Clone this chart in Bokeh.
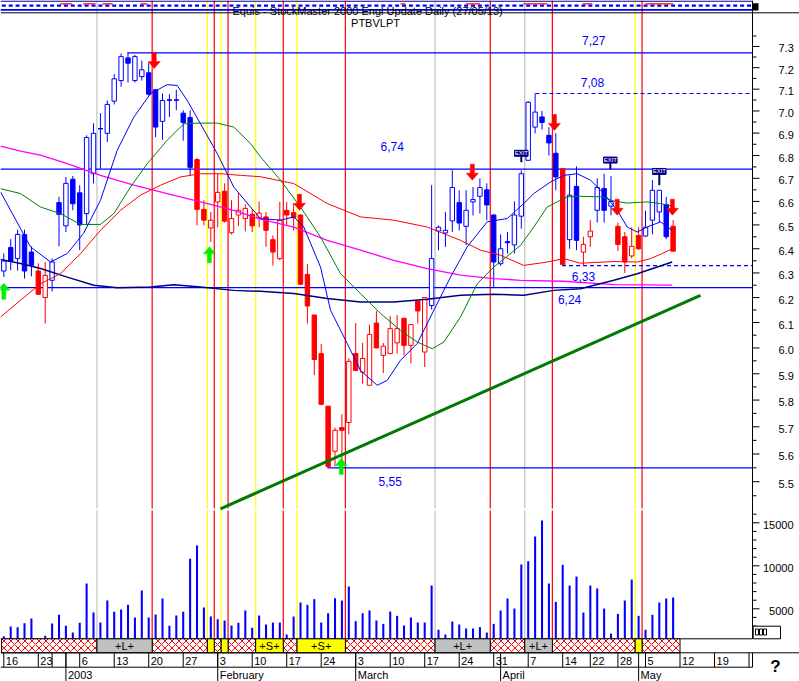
import math
from bokeh.plotting import figure
from bokeh.models import Range1d, LogScale, LinearScale
from bokeh.core.properties import value
from bokeh.embed import file_html
from bokeh.resources import INLINE

# ---------------- data ----------------
bar_open = [6.308, 6.405, 6.359, 6.459, 6.386, 6.308, 6.20, 6.27, 6.595, 6.496,
            6.696, 6.637, 6.548, 6.72, 6.92, 6.899, 7.045, 7.14, 7.246, 7.14,
            7.158, 7.176, 7.097, 6.953, 7.05, 7.05, 6.99, 6.97, 6.782, 6.566,
            6.487, 6.598, 6.644, 6.467, 6.542, 6.527, 6.545, 6.53, 6.534, 6.438,
            6.359, 6.562, 6.552, 6.542, 6.294, 6.13, 5.978, 5.777, 5.61, 5.697,
            5.716, 5.978, 5.906, 5.856, 6.098, 5.971, 5.978, 6.02, 6.117, 6.01,
            6.186, 5.984, 6.168, 6.474, 6.466, 6.517, 6.595, 6.494, 6.598, 6.622,
            6.65, 6.542, 6.338, 6.43, 6.416, 6.537, 6.779, 6.927, 6.973, 6.89,
            6.81, 6.742, 6.438, 6.665, 6.386, 6.45, 6.562, 6.656, 6.58, 6.494,
            6.45, 6.37, 6.455, 6.453, 6.52, 6.555, 6.587, 6.494]
bar_high = [6.380, 6.44, 6.48, 6.48, 6.41, 6.34, 6.345, 6.36, 6.62, 6.706,
            6.71, 6.67, 6.89, 6.944, 6.99, 7.048, 7.17, 7.267, 7.27, 7.26,
            7.234, 7.224, 7.10, 7.08, 7.077, 7.097, 7.003, 7.003, 6.79, 6.605,
            6.555, 6.72, 6.678, 6.605, 6.638, 6.587, 6.566, 6.60, 6.555, 6.456,
            6.598, 6.598, 6.59, 6.545, 6.337, 6.13, 6.016, 5.777, 5.697, 5.747,
            5.96, 6.098, 6.02, 6.092, 6.146, 6.019, 6.126, 6.13, 6.117, 6.092,
            6.186, 6.2, 6.67, 6.498, 6.555, 6.735, 6.648, 6.648, 6.662, 6.70,
            6.678, 6.545, 6.46, 6.47, 6.60, 6.735, 7.045, 7.08, 7.0, 6.927,
            6.9, 6.742, 6.713, 6.752, 6.45, 6.52, 6.70, 6.72, 6.71, 6.51,
            6.47, 6.49, 6.49, 6.56, 6.692, 6.648, 6.62, 6.52]
bar_low = [6.283, 6.311, 6.31, 6.277, 6.286, 6.213, 6.096, 6.225, 6.41, 6.47,
           6.562, 6.394, 6.50, 6.678, 6.742, 6.86, 7.03, 7.111, 7.131, 7.131,
           7.14, 7.07, 6.882, 6.87, 6.973, 7.003, 6.866, 6.713, 6.498, 6.498,
           6.428, 6.49, 6.51, 6.46, 6.494, 6.473, 6.47, 6.49, 6.408, 6.33,
           6.352, 6.498, 6.477, 6.25, 6.096, 5.895, 5.78, 5.55, 5.555, 5.565,
           5.672, 5.91, 5.862, 5.856, 6.0, 5.903, 5.978, 5.978, 5.971, 5.94,
           6.096, 5.926, 6.152, 6.394, 6.408, 6.47, 6.477, 6.415, 6.54, 6.548,
           6.52, 6.243, 6.33, 6.38, 6.38, 6.484, 6.779, 6.899, 6.916, 6.80,
           6.648, 6.33, 6.40, 6.394, 6.33, 6.408, 6.51, 6.51, 6.54, 6.39,
           6.30, 6.36, 6.395, 6.45, 6.46, 6.51, 6.44, 6.388]
bar_close = [6.349, 6.348, 6.46, 6.308, 6.331, 6.213, 6.29, 6.345, 6.545, 6.678,
             6.59, 6.50, 6.88, 6.899, 6.92, 7.03, 7.148, 7.252, 7.221, 7.252,
             7.19, 7.077, 6.927, 7.048, 7.05, 7.05, 6.948, 6.748, 6.566, 6.52,
             6.52, 6.639, 6.516, 6.527, 6.562, 6.57, 6.496, 6.55, 6.477, 6.386,
             6.52, 6.542, 6.53, 6.254, 6.166, 5.955, 5.784, 5.555, 5.687, 5.687,
             5.948, 5.913, 5.959, 6.053, 6.0, 6.007, 6.076, 6.076, 6.01, 6.092,
             6.146, 6.2, 6.359, 6.49, 6.477, 6.66, 6.508, 6.562, 6.608, 6.66,
             6.585, 6.345, 6.40, 6.425, 6.542, 6.72, 7.04, 6.995, 6.948, 6.856,
             6.706, 6.335, 6.627, 6.435, 6.418, 6.474, 6.66, 6.562, 6.60, 6.418,
             6.345, 6.41, 6.40, 6.49, 6.648, 6.648, 6.45, 6.39]
bar_state = (["B"] * 5 + ["R"] * 2 + ["B"] * 21 + ["R"] * 34 + ["B"] * 19 + ["R"]
             + ["B"] * 2 + ["R"] * 2 + ["B"] * 3 + ["R"] * 4 + ["B"] * 4 + ["R"])
volume = [1812, 2940, 2860, 3330, 3870, 1400, 1860, 3290, 4300, 3020,
          2240, 3370, 7940, 4570, 3400, 5960, 4650, 4920, 5460, 3990,
          7130, 3990, 4330, 6200, 3020, 4220, 4650, 10810, 12360, 5150,
          4100, 3790, 3640, 3060, 3370, 4800, 2790, 4220, 3170, 3400,
          3400, 2010, 4100, 5730, 5460, 6120, 3400, 4490, 6230, 5960,
          7590, 3560, 4490, 4800, 3640, 3250, 4680, 4180, 3060, 3990,
          3400, 3400, 7710, 2560, 2010, 3520, 3170, 2710, 2710, 2860,
          2240, 3250, 4800, 6200, 5030, 10150, 10530, 13410, 15270, 7940,
          5810, 10110, 7710, 8750, 4570, 7710, 7360, 5030, 2120, 4410,
          5960, 8400, 4180, 2560, 4300, 5730, 6200, 6310]

ma_fast_x = [-0.48, 3.87, 6.77, 9.19, 11.55, 14.01, 16.43, 18.84, 21.26, 23.68, 25.13, 26.58,
             28.51, 30.93, 33.33, 35.75, 37.2, 40.1, 42.03, 43.48, 45.9, 47.35, 49.77, 51.7,
             54.12, 55.57, 57.49, 59.91, 62.32, 64.74, 67.16, 70.06, 72.96, 75.36, 76.81,
             79.23, 81.16, 83.1, 85.03, 86.96, 88.9, 90.35, 91.8, 93.25, 95.17, 96.87]
ma_fast_y = [6.641, 6.408, 6.345, 6.38, 6.464, 6.605, 6.823, 6.972, 7.079, 7.121, 7.117, 7.048,
             6.942, 6.809, 6.662, 6.576, 6.527, 6.52, 6.534, 6.491, 6.324, 6.149, 6.017, 5.913,
             5.856, 5.875, 5.952, 6.017, 6.149, 6.283, 6.408, 6.513, 6.527, 6.591, 6.634,
             6.684, 6.713, 6.72, 6.692, 6.634, 6.562, 6.491, 6.47, 6.491, 6.513, 6.477]
ma_mid_x = [-0.48, 2.42, 5.32, 8.22, 11.12, 14.01, 15.94, 18.36, 20.78, 23.68, 26.09, 28.51,
            30.93, 33.33, 35.75, 37.2, 40.1, 43.0, 45.9, 48.8, 51.7, 54.6, 57.49, 59.91,
            62.09, 63.77, 66.19, 68.61, 71.01, 74.88, 76.81, 78.75, 80.2, 81.65, 83.57,
            86.48, 88.41, 90.35, 93.25, 95.17, 96.87]
ma_mid_y = [6.655, 6.634, 6.576, 6.548, 6.502, 6.502, 6.548, 6.662, 6.764, 6.868, 6.942, 6.945,
            6.945, 6.927, 6.853, 6.794, 6.692, 6.576, 6.449, 6.297, 6.216, 6.136, 6.069, 6.023,
            5.997, 6.023, 6.122, 6.256, 6.324, 6.414, 6.491, 6.576, 6.598, 6.62, 6.622,
            6.62, 6.602, 6.593, 6.598, 6.591, 6.58]
ma_slow_x = [-0.48, 2.42, 5.32, 8.22, 11.12, 14.01, 16.91, 19.81, 22.71, 25.61, 28.51, 31.4,
             34.3, 37.2, 42.03, 46.87, 51.7, 56.52, 61.36, 66.19, 69.09, 71.98, 75.36, 78.75,
             81.16, 83.57, 88.41, 91.8, 93.72, 95.42, 96.87]
ma_slow_y = [6.122, 6.189, 6.256, 6.297, 6.38, 6.477, 6.562, 6.627, 6.67, 6.706, 6.72, 6.72,
             6.713, 6.707, 6.677, 6.591, 6.534, 6.52, 6.491, 6.435, 6.394, 6.373, 6.331, 6.345,
             6.359, 6.34, 6.347, 6.345, 6.359, 6.38, 6.40]
ma_long_x = [-0.48, 2.42, 5.32, 9.19, 14.01, 18.84, 23.68, 28.51, 33.33, 37.2, 42.03, 46.87,
             51.7, 56.52, 61.36, 66.19, 71.01, 74.88, 81.16, 88.41, 96.87]
ma_long_y = [6.842, 6.82, 6.802, 6.764, 6.713, 6.67, 6.634, 6.598, 6.562, 6.524, 6.491, 6.435,
             6.394, 6.352, 6.318, 6.291, 6.277, 6.27, 6.266, 6.252, 6.25]
ma_base_x = [-0.48, 2.42, 5.32, 9.19, 13.04, 16.43, 21.26, 24.64, 28.51, 33.33, 37.2, 42.03,
             46.87, 51.7, 56.52, 61.36, 66.19, 71.01, 75.36, 79.71, 83.57, 88.41, 91.8, 96.87]
ma_base_y = [6.355, 6.339, 6.318, 6.283, 6.25, 6.24, 6.243, 6.252, 6.243, 6.229, 6.225, 6.216,
             6.196, 6.182, 6.182, 6.193, 6.209, 6.213, 6.209, 6.229, 6.236, 6.27, 6.297, 6.345]

level_values = [7.27, 7.08, 6.74, 6.33, 6.24, 5.55]
level_start_bar = [17.9, 77.05, -0.48, 80.9, -0.48, 46.9]
level_dashed = [False, True, False, True, False, False]
level_text = ["7,27", "7,08", "6,74", "6,33", "6,24", "5,55"]
level_text_bar = [85.5, 85.3, 56.3, 84.0, 82.0, 56.0]

trend_x = [31.4, 100.97]
trend_y = [5.404, 6.209]

sell_arrow_bar = [21.8, 42.85, 67.9, 79.8, 88.9, 96.9]
sell_arrow_price = [7.196, 6.562, 6.692, 6.912, 6.541, 6.541]
buy_arrow_bar = [0.0, 29.8, 48.9]
buy_arrow_price = [6.258, 6.408, 5.584]

exit_bar = [75.0, 87.9, 95.0]
exit_box_price = [6.81, 6.78, 6.73]
exit_stem_price = [6.77, 6.74, 6.67]

long_lines = [13.5, 62.5, 75.5]
exit_lines = [21.5, 30.5, 32.5, 40.5, 49.5, 70.5, 79.5, 92.5]
short_lines = [29.5, 31.5, 36.5, 42.5, 91.5]

band_start = [-0.33, 13.5, 21.5, 29.5, 30.5, 31.5, 32.5, 36.5, 40.5, 42.5, 49.5, 62.5, 70.5, 75.5, 79.5, 91.5, 92.5]
band_end = [13.5, 21.5, 29.5, 30.5, 31.5, 32.5, 36.5, 40.5, 42.5, 49.5, 62.5, 70.5, 75.5, 79.5, 91.5, 92.5, 98.0]
band_kind = ["N", "L", "N", "S", "N", "S", "N", "S", "N", "S", "N", "L", "N", "L", "N", "S", "N"]
band_label = ["", "+L+", "", "", "", "", "", "+S+", "", "+S+", "", "+L+", "", "+L+", "", "", ""]

week_tick_bar = [0, 5, 7, 9, 11, 16, 21, 26, 31, 36, 41, 46, 51, 56, 61, 66, 71, 76, 81, 85, 89, 93, 98, 103, 108]
week_tick_label = ["16", "23", "", "", "6", "13", "20", "27", "3", "10", "17", "24", "3", "10",
                   "17", "24", "31", "7", "14", "22", "28", "5", "12", "19", "2"]
month_bar = [9, 31, 51, 72, 92]
month_label = ["2003", "February", "March", "April", "May"]

price_ticks = [5.5, 5.6, 5.7, 5.8, 5.9, 6.0, 6.1, 6.2, 6.3, 6.4, 6.5, 6.6, 6.7, 6.8, 6.9, 7.0, 7.1, 7.2, 7.3]
price_tick_labels = ["5.5", "5.6", "5.7", "5.8", "5.9", "6.0", "6.1", "6.2", "6.3", "6.4", "6.5",
                     "6.6", "6.7", "6.8", "6.9", "7.0", "7.1", "7.2", "7.3"]
price_minor_ticks = [5.45, 5.55, 5.65, 5.75, 5.85, 5.95, 6.05, 6.15, 6.25, 6.35, 6.45, 6.55,
                     6.65, 6.75, 6.85, 6.95, 7.05, 7.15, 7.25, 7.35]
volume_ticks = [5000, 10000, 15000]
volume_tick_labels = ["5000", "10000", "15000"]
volume_minor_ticks = [2000, 3000, 4000, 6000, 7000, 8000, 9000, 11000, 12000, 13000, 14000, 16000]

header_red_start = [8.2, 11.5, 14.3, 19.8, 57.5, 67.0, 75.3, 83.9, 93.0]
header_red_end = [9.9, 13.3, 15.8, 20.8, 58.2, 69.0, 78.8, 85.3, 97.0]

# ---------------- layout (one canvas, reference pixel rows) ----------------
W, H = 799, 681
PXB = 6.9                       # pixels per trading day
XMIN = -0.48
XEND = XMIN + W / PXB
XAX = XMIN + 752 / PXB          # right axis position


def bx(px):
    return XMIN + px / PXB


# price scale: log, 1537.3 px per ln unit, 7.27 at row 52.3
K = 1537.3
PTOP = math.exp(math.log(7.27) + 52.3 / K)
PBOT = math.exp(math.log(7.27) - (H - 52.3) / K)
# volume scale: 5000 per 43 px, 15000 at row 522.3
VPX = 5000 / 43
VTOP = 15000 + 522.3 * VPX
VBOT = 15000 - (H - 522.3) * VPX
VFLOOR = 15000 - (638.3 - 522.3) * VPX

FONT = value("Liberation Sans")
RED, YEL, GRY, BLU, NAVY = "#FF0000", "#FFFF00", "#C0C0C0", "#0000FF", "#000080"

p = figure(width=W, height=H, x_range=Range1d(XMIN, XEND), y_range=Range1d(H, 0),
           x_axis_location=None, y_axis_location=None, min_border=0,
           toolbar_location=None, output_backend="svg")
p.extra_y_ranges = {"price": Range1d(PBOT, PTOP), "vol": Range1d(VBOT, VTOP)}
p.extra_y_scales = {"price": LogScale(), "vol": LinearScale()}
p.outline_line_color = None
p.grid.visible = False
p.background_fill_color = "white"
p.border_fill_color = "white"

PR = dict(y_range_name="price")
VR = dict(y_range_name="vol")

# ---- signal verticals (price + volume panes, small gap between panes) ----
for bars, c in ((long_lines, GRY), (short_lines, YEL), (exit_lines, RED)):
    n = len(bars)
    p.segment(x0=bars, y0=[0] * n, x1=bars, y1=[508] * n, line_color=c, line_width=1.2)
    p.segment(x0=bars, y0=[510] * n, x1=bars, y1=[638.3] * n, line_color=c, line_width=1.2)

# ---- header strip ----
p.segment(x0=[XMIN], y0=[0.7], x1=[XAX], y1=[0.7], line_color=NAVY, line_width=1.3)
sq = list(range(0, 109))
p.rect(x=sq, y=[5.2] * len(sq), width=0.58, height=2.3, fill_color=BLU, line_color=None)
p.segment(x0=header_red_start, y0=[3.4] * len(header_red_start), x1=header_red_end,
          y1=[3.4] * len(header_red_start), line_color=RED, line_width=1.3)
p.segment(x0=[XMIN], y0=[9.4], x1=[XAX], y1=[9.4], line_color=BLU, line_width=1.6)
p.segment(x0=[XMIN], y0=[12.3], x1=[XEND], y1=[12.3], line_color="black", line_width=1)
p.quad(left=[XAX], right=[bx(758)], top=[2.7], bottom=[10], fill_color="black", line_color=None)
p.text(x=[bx(232)], y=[10.2], text=["Equis - StockMaster 2000 Engl Update Daily (27/05/13)"],
       text_font=FONT, text_font_size="11px", text_baseline="middle", text_align="left",
       text_color="black")
p.text(x=[bx(375)], y=[22.3], text=["PTBVLPT"], text_font=FONT, text_font_size="11px",
       text_baseline="middle", text_align="center", text_color="black")

# ---- price pane ----
for lv, st, dsh in zip(level_values, level_start_bar, level_dashed):
    p.segment(x0=[st], y0=[lv], x1=[XAX], y1=[lv], line_color=BLU, line_width=1.2,
              line_dash="4 3" if dsh else "solid", **PR)

idx = list(range(len(bar_open)))
col = [BLU if s == "B" else RED for s in bar_state]
fill = [c if cl < o else "white" for c, o, cl in zip(col, bar_open, bar_close)]
top = [max(o, c) for o, c in zip(bar_open, bar_close)]
bot = [min(o, c) for o, c in zip(bar_open, bar_close)]
p.segment(x0=idx, y0=bar_low, x1=idx, y1=bar_high, line_color=col, line_width=1, **PR)
p.vbar(x=idx, top=top, bottom=bot, width=0.64, fill_color=fill, line_color=col, line_width=1, **PR)
doji = [i for i in idx if bar_open[i] == bar_close[i]]
p.segment(x0=[i - 0.34 for i in doji], y0=[bar_open[i] for i in doji],
          x1=[i + 0.34 for i in doji], y1=[bar_open[i] for i in doji],
          line_color=[col[i] for i in doji], line_width=1.3, **PR)

p.line(ma_long_x, ma_long_y, line_color="#FF00FF", line_width=1.3, **PR)
p.line(ma_base_x, ma_base_y, line_color=NAVY, line_width=1.5, **PR)
p.line(ma_slow_x, ma_slow_y, line_color=RED, line_width=1, **PR)
p.line(ma_mid_x, ma_mid_y, line_color="#008000", line_width=1, **PR)
p.line(ma_fast_x, ma_fast_y, line_color=BLU, line_width=1, **PR)

p.line(trend_x, trend_y, line_color="#007A00", line_width=3, **PR)

ARROW = [(0, 0), (-6, 7), (-2, 7), (-2, 16), (2, 16), (2, 7), (6, 7)]


def arrows(bars, tips, sign):
    xs, ys = [], []
    for b, t in zip(bars, tips):
        xs.append([b + dx / PXB for dx, dy in ARROW])
        ys.append([t * math.exp(sign * dy / K) for dx, dy in ARROW])
    return xs, ys


sx, sy = arrows(sell_arrow_bar, sell_arrow_price, 1)
p.patches(sx, sy, fill_color=RED, line_color=RED, line_width=0.5, **PR)
gx, gy = arrows(buy_arrow_bar, buy_arrow_price, -1)
p.patches(gx, gy, fill_color="#00EE00", line_color="#00EE00", line_width=0.5, **PR)

p.segment(x0=exit_bar, y0=exit_box_price, x1=exit_bar, y1=exit_stem_price,
          line_color=NAVY, line_width=2, **PR)
p.rect(x=exit_bar, y=exit_box_price, width=13.5 / PXB, height=6, height_units="screen",
       fill_color=NAVY, line_color=NAVY, **PR)
p.text(x=exit_bar, y=exit_box_price, text=["EXIT"] * len(exit_bar), text_font=FONT,
       text_font_size="6px", text_color="white", text_align="center", text_baseline="middle", **PR)

lbl_off = [-12, -11, -23, 11, 12, 14]
p.text(x=level_text_bar, y=level_values, text=level_text, y_offset=lbl_off, text_font=FONT,
       text_font_size="12px", text_color=BLU, text_align="center", text_baseline="middle", **PR)

# ---- price axis (right) ----
p.segment(x0=[XAX], y0=[0], x1=[XAX], y1=[638.3], line_color="black", line_width=1)
n = len(price_ticks)
p.segment(x0=[XAX] * n, y0=price_ticks, x1=[XAX + 7 / PXB] * n, y1=price_ticks,
          line_color="black", line_width=1, **PR)
m = len(price_minor_ticks)
p.segment(x0=[XAX] * m, y0=price_minor_ticks, x1=[XAX + 4 / PXB] * m, y1=price_minor_ticks,
          line_color="black", line_width=1, **PR)
p.text(x=[bx(778)] * n, y=price_ticks, text=price_tick_labels, y_offset=2, text_font=FONT,
       text_font_size="11px", text_color="black", text_align="left", text_baseline="middle", **PR)

# ---- volume pane ----
vtop = [max(v, VFLOOR) for v in volume]
p.vbar(x=idx, top=vtop, bottom=VFLOOR, width=0.3, fill_color=BLU, line_color=None, **VR)
n = len(volume_ticks)
p.segment(x0=[XAX] * n, y0=volume_ticks, x1=[XAX + 7 / PXB] * n, y1=volume_ticks,
          line_color="black", line_width=1, **VR)
m = len(volume_minor_ticks)
p.segment(x0=[XAX] * m, y0=volume_minor_ticks, x1=[XAX + 4 / PXB] * m, y1=volume_minor_ticks,
          line_color="black", line_width=1, **VR)
p.text(x=[bx(793)] * n, y=volume_ticks, text=volume_tick_labels, y_offset=2, text_font=FONT,
       text_font_size="11px", text_color="black", text_align="right", text_baseline="middle", **VR)
# small control box at the bottom right of the volume pane
p.quad(left=[bx(752.7)], right=[bx(780)], top=[625.7], bottom=[638.3], fill_color="white",
       line_color="black", line_width=1)
p.quad(left=[bx(755), bx(759), bx(763)], right=[bx(758), bx(762), bx(766)],
       top=[628.5] * 3, bottom=[634.5] * 3, fill_color="white", line_color="black", line_width=1)

# ---- signal band ----
B_TOP, B_BOT, D_BOT = 638.3, 652.3, 666.7
p.segment(x0=[XMIN], y0=[B_TOP], x1=[XAX], y1=[B_TOP], line_color="black", line_width=1)
for kind, fc in (("N", "white"), ("L", GRY), ("S", YEL)):
    sel = [i for i, k in enumerate(band_kind) if k == kind]
    kw = dict(hatch_pattern="x", hatch_color=RED, hatch_scale=7, hatch_weight=1) if kind == "N" else {}
    p.quad(left=[band_start[i] for i in sel], right=[band_end[i] for i in sel],
           top=[B_TOP] * len(sel), bottom=[B_BOT] * len(sel), fill_color=fc,
           line_color="black", line_width=1, **kw)
lab = [i for i, t in enumerate(band_label) if t]
p.text(x=[(band_start[i] + band_end[i]) / 2 for i in lab], y=[645.5] * len(lab),
       text=[band_label[i] for i in lab], text_font=FONT, text_font_size="11px",
       text_align="center", text_baseline="middle", text_color="black")

# ---- date axis ----
p.segment(x0=[XMIN], y0=[B_BOT], x1=[XEND], y1=[B_BOT], line_color="black", line_width=1)
p.segment(x0=[XMIN], y0=[D_BOT], x1=[XAX], y1=[D_BOT], line_color="black", line_width=1)
nt = len(week_tick_bar)
p.segment(x0=week_tick_bar, y0=[B_BOT] * nt, x1=week_tick_bar, y1=[D_BOT] * nt,
          line_color="black", line_width=1)
p.segment(x0=[XAX], y0=[B_BOT], x1=[XAX], y1=[D_BOT], line_color="black", line_width=1)
p.segment(x0=month_bar, y0=[B_BOT] * len(month_bar), x1=month_bar, y1=[H] * len(month_bar),
          line_color="black", line_width=1)
p.text(x=week_tick_bar[:-1], y=[660] * (nt - 1), text=week_tick_label[:-1], x_offset=2,
       text_font=FONT, text_font_size="11px", text_align="left", text_baseline="middle",
       text_color="black")
p.text(x=month_bar, y=[674.5] * len(month_bar), text=month_label, x_offset=2,
       text_font=FONT, text_font_size="11px", text_align="left", text_baseline="middle",
       text_color="black")
p.text(x=[bx(775)], y=[666], text=["?"], text_font=FONT, text_font_size="17px",
       text_font_style="bold", text_align="center", text_baseline="middle", text_color="black")

open("out.html", "w").write(file_html(p, INLINE))
